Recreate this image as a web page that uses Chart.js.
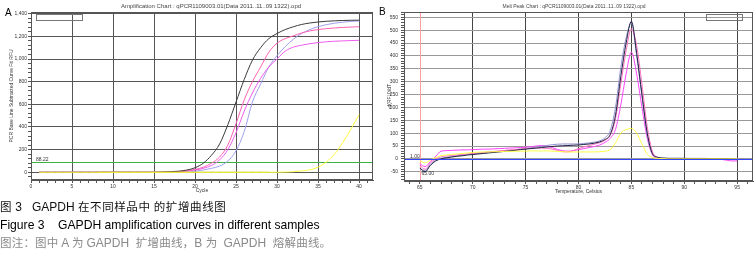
<!DOCTYPE html>
<html>
<head>
<meta charset="utf-8">
<script src="https://cdn.jsdelivr.net/npm/chart.js@4/dist/chart.umd.min.js"></script>
<style>
body{margin:0;background:#fff;width:756px;height:256px;overflow:hidden;position:relative;font-family:"Liberation Sans",Arial,"Noto Sans CJK SC",sans-serif}
#ca{position:absolute;left:0;top:0}
#cb{position:absolute;left:376px;top:0}
.cap{position:absolute;left:0;white-space:pre;line-height:14px;font-size:12px}
.zh{font-family:"Noto Sans CJK SC",sans-serif;font-size:11.5px;letter-spacing:0.6px}
.zh2{font-family:"Noto Sans CJK SC",sans-serif;font-size:11.5px;letter-spacing:0.2px}
</style>
</head>
<body>
<canvas id="ca" width="376" height="200"></canvas>
<canvas id="cb" width="380" height="200"></canvas>
<div class="cap" style="top:199px;color:#111"><span class="zh">图 </span>3   GAPDH <span class="zh">在不同样品中 的扩增曲线图</span></div>
<div class="cap" style="top:218px;color:#000;font-size:12.15px">Figure 3    GAPDH amplification curves in different samples</div>
<div class="cap" style="top:235px;color:#8a8a8a"><span class="zh2">图注：图中 </span>A <span class="zh2">为 </span>GAPDH  <span class="zh2">扩增曲线，</span>B <span class="zh2">为 </span> GAPDH  <span class="zh2">熔解曲线。</span></div>
<script>
// A: amplification
const cycles = [1,2,3,4,5,6,7,8,9,10,11,12,13,14,15,16,17,18,19,20,21,22,23,24,25,26,27,28,29,30,31,32,33,34,35,36,37,38,39,40];
const ampBlack = [0,0,0,0,0,0,0,0,0,0,0,0,0,0,0,2,5,10,20,40,80,150,250,420,620,820,990,1100,1180,1225,1260,1285,1305,1318,1327,1333,1337,1340,1342,1343];
const ampLav = [0,0,0,0,0,0,0,0,0,0,0,0,0,0,0,0,0,0,0,10,20,35,55,100,190,360,620,780,930,1030,1110,1175,1225,1260,1285,1303,1316,1325,1332,1336];
const ampPink = [0,0,0,0,0,0,0,0,0,0,0,0,0,0,0,0,0,5,15,25,45,80,135,240,430,640,800,930,1060,1140,1180,1205,1230,1248,1260,1268,1274,1279,1282,1285];
const ampMag = [0,0,0,0,0,0,0,0,0,0,0,0,0,0,0,0,0,5,10,20,35,60,110,200,350,540,700,830,930,1000,1070,1105,1122,1135,1145,1152,1157,1160,1163,1165];
const ampYel = [0,0,0,0,0,0,0,0,0,0,0,0,0,0,0,0,0,0,0,0,0,0,0,0,0,0,0,0,0,0,2,5,12,22,45,90,160,260,380,510];
const ampOlive = [null,null,null,null,null,null,null,0,0,0,0,0,0,0,0,0,0,0,0,0,0,0,0,0,0,0,0,0,0,null,null,null,null,null,null,null,null,null,null,null];
const ampThreshold = 88.22;

// B: melt peak
const temps = [65,65.5,66,66.5,67,67.5,68,68.5,69,69.5,70,70.5,71,71.5,72,72.5,73,73.5,74,74.5,75,75.5,76,76.5,77,77.5,78,78.5,79,79.5,80,80.5,81,81.5,82,82.5,83,83.5,84,84.5,85,85.5,86,86.5,87,87.5,88,88.5,89,89.5,90,90.5,91,91.5,92,92.5,93,93.5,94,94.5,95];
const meltBlack = [-35,-50,-25,-8,0,4,7,10,12,15,17,19,21,23,25,27,29,31,33,36,38,40,42,44,46,48,50,51,52,53,54,56,58,61,66,75,95,170,320,450,535,410,250,100,20,6,3,2,2,2,2,1,1,1,1,1,1,1,1,0,0];
const meltLav = [-40,-45,-20,-5,2,6,9,12,14,17,19,21,23,25,27,29,31,33,35,38,40,43,46,49,52,55,57,58,58,58,58,60,62,65,70,82,110,200,355,470,528,400,245,95,18,5,3,2,2,2,2,2,2,2,2,1,1,1,1,1,1];
const meltPink = [-25,-40,-15,0,8,11,13,15,17,19,21,23,25,27,29,31,33,35,36,38,40,41,42,42,41,38,33,28,27,32,40,46,52,57,63,72,92,155,290,420,505,440,290,125,28,6,1,0,0,1,0,0,1,0,0,0,1,0,0,-1,0];
const meltMag = [-20,-30,-10,10,30,32,33,34,35,35,36,37,38,38,39,40,41,42,43,44,45,47,50,52,50,44,37,32,30,32,36,40,44,48,54,64,80,115,210,330,415,330,200,80,15,2,0,0,1,0,0,0,0,0,0,0,-1,-2,-5,-8,-8];
const meltYel = [-8,-15,-5,5,12,15,17,19,21,23,25,26,27,27,28,28,29,29,30,30,30,31,31,31,31,30,29,28,27,27,27,27,27,27,28,30,36,62,100,114,118,100,58,18,5,2,1,0,0,0,0,0,0,0,0,0,0,0,0,0,0];
const meltThreshold = 1.00;
const meltStart = 65;

const FONT = '"Liberation Sans", Arial, sans-serif';

function stepTicks(min, max, step) {
  const t = [];
  for (let v = Math.ceil(min / step) * step; v <= max + 1e-9; v += step) t.push({ value: Math.round(v * 100) / 100 });
  return t;
}
function pts(xs, ys) { return xs.map((x, i) => ({ x: x, y: ys[i] })); }
function ds(xs, ys, color) {
  return { data: pts(xs, ys), borderColor: color, borderWidth: 1, pointRadius: 0, fill: false, cubicInterpolationMode: 'monotone', spanGaps: false };
}
function txt(ctx, s, x, y, size, color, align, maxW) {
  ctx.save();
  ctx.font = size + 'px ' + FONT;
  ctx.fillStyle = color;
  ctx.textAlign = align || 'left';
  ctx.textBaseline = 'middle';
  if (maxW) ctx.fillText(s, x, y, maxW); else ctx.fillText(s, x, y);
  ctx.restore();
}

const ampPlugin = {
  id: 'ampExtras',
  beforeDatasetsDraw(chart) {
    const { ctx, chartArea: a, scales: { y } } = chart;
    const ty = Math.round(y.getPixelForValue(ampThreshold)) + 0.5;
    ctx.save();
    ctx.strokeStyle = '#3cb043';
    ctx.lineWidth = 1;
    ctx.beginPath(); ctx.moveTo(a.left, ty); ctx.lineTo(a.right, ty); ctx.stroke();
    ctx.restore();
    txt(ctx, ampThreshold.toFixed(2), a.left + 5, ty - 3, 5, '#333');
  },
  afterDraw(chart) {
    const { ctx, chartArea: a } = chart;
    ctx.save();
    ctx.strokeStyle = '#555';
    ctx.lineWidth = 1;
    ctx.strokeRect(a.left + 0.5, a.top + 0.5, a.right - a.left - 1, a.bottom - a.top - 1);
    ctx.strokeStyle = '#777';
    ctx.strokeRect(36.5, 14.5, 46, 6);
    ctx.restore();
    txt(ctx, 'Amplification Chart : qPCR1109003.01(Data 2011..11..09 1322).opd', 211, 6, 6, '#444', 'center', 188);
    txt(ctx, 'A', 5, 13, 10, '#000');
  }
};

const meltPlugin = {
  id: 'meltExtras',
  beforeDatasetsDraw(chart) {
    const { ctx, chartArea: a, scales: { x, y } } = chart;
    const rx = Math.round(x.getPixelForValue(meltStart)) + 0.5;
    const by = Math.round(y.getPixelForValue(meltThreshold)) + 0.5;
    ctx.save();
    ctx.lineWidth = 1;
    ctx.strokeStyle = '#ff9c9c';
    ctx.beginPath(); ctx.moveTo(rx, a.top); ctx.lineTo(rx, a.bottom); ctx.stroke();
    ctx.restore();
    txt(ctx, meltThreshold.toFixed(2), a.left + 6, by - 3, 5, '#333');
    txt(ctx, meltStart.toFixed(2), rx + 1, by + 14, 5, '#333');
  },
  afterDatasetsDraw(chart) {
    const { ctx, chartArea: a, scales: { y } } = chart;
    const by = Math.round(y.getPixelForValue(meltThreshold)) + 0.5;
    ctx.save();
    ctx.strokeStyle = '#3344ff';
    ctx.lineWidth = 1;
    ctx.beginPath(); ctx.moveTo(a.left, by); ctx.lineTo(a.right, by); ctx.stroke();
    ctx.restore();
  },
  afterDraw(chart) {
    const { ctx, chartArea: a } = chart;
    ctx.save();
    ctx.strokeStyle = '#555';
    ctx.lineWidth = 1;
    ctx.strokeRect(a.left + 0.5, a.top + 0.5, a.right - a.left - 1, a.bottom - a.top - 1);
    ctx.strokeStyle = '#777';
    ctx.strokeRect(330.5, 14.5, 36, 6);
    ctx.restore();
    txt(ctx, 'Melt Peak Chart : qPCR1109003.01(Data 2011..11..09 1322).opd', 198, 6, 6, '#444', 'center', 143);
    txt(ctx, 'B', 3, 12, 10, '#000');
  }
};

function axisX(min, max, minor, major, majorColor, skip, height, title, titlePad) {
  return {
    type: 'linear', min: min, max: max,
    afterBuildTicks: s => { s.ticks = stepTicks(min, max, minor); },
    afterFit: s => { s.height = height; },
    grid: {
      color: c => (c.tick && c.tick.value % major === 0 && c.tick.value !== skip) ? majorColor : 'rgba(0,0,0,0)',
      tickColor: '#555', tickLength: 3, lineWidth: 1
    },
    border: { color: '#555' },
    ticks: { autoSkip: false, maxRotation: 0, padding: 1, color: '#333', font: { size: 5, family: FONT },
      callback: v => (v % major === 0 ? String(v) : '') },
    title: { display: true, text: title, color: '#333', font: { size: 5, family: FONT }, padding: { top: 0, bottom: titlePad } }
  };
}
function axisY(min, max, minor, major, majorColor, width, title, titlePad, fmt, labelPad) {
  return {
    type: 'linear', min: min, max: max,
    afterBuildTicks: s => { s.ticks = stepTicks(min, max, minor); },
    afterFit: s => { s.width = width; },
    grid: {
      color: c => (c.tick && c.tick.value % major === 0) ? majorColor : 'rgba(0,0,0,0)',
      tickColor: '#555', tickLength: 3, lineWidth: 1
    },
    border: { color: '#555' },
    ticks: { autoSkip: false, padding: labelPad, color: '#333', font: { size: 5, family: FONT },
      callback: v => (v % major === 0 ? fmt(v) : '') },
    title: { display: true, text: title, color: '#333', font: { size: 5, family: FONT }, padding: { top: titlePad, bottom: 0 } }
  };
}

new Chart(document.getElementById('ca'), {
  type: 'line',
  data: {
    datasets: [
      ds(cycles, ampYel, '#ffff40'),
      ds(cycles, ampOlive, '#a3a320'),
      ds(cycles, ampBlack, '#3a3a3a'),
      ds(cycles, ampPink, '#ff5fb0'),
      ds(cycles, ampMag, '#ee5cee'),
      ds(cycles, ampLav, '#9f9fef')
    ]
  },
  options: {
    responsive: false, animation: false, devicePixelRatio: 1,
    layout: { padding: { left: 0, right: 3, top: 12, bottom: 0 } },
    plugins: { legend: { display: false }, tooltip: { enabled: false } },
    scales: {
      x: axisX(0, 41.7, 1, 5, '#555', null, 20, 'Cycle', 6),
      y: axisY(-68, 1415, 40, 200, '#555', 31, 'PCR Base Line Subtracted Curve Fit RFU', 9,
        v => v.toLocaleString('en-US'), 1)
    }
  },
  plugins: [ampPlugin]
});

new Chart(document.getElementById('cb'), {
  type: 'line',
  data: {
    datasets: [
      ds(temps, meltYel, '#ffff44'),
      ds(temps, meltBlack, '#222244'),
      ds(temps, meltPink, '#ff70c0'),
      ds(temps, meltLav, '#9090d0'),
      ds(temps, meltMag, '#ff44ff')
    ]
  },
  options: {
    responsive: false, animation: false, devicePixelRatio: 1,
    layout: { padding: { left: 0, right: 3, top: 12, bottom: 0 } },
    plugins: { legend: { display: false }, tooltip: { enabled: false } },
    scales: {
      x: axisX(63.5, 96.5, 1, 5, '#444', 65, 19, 'Temperature, Celsius', 5),
      y: axisY(-86, 571, 10, 50, '#999', 28, '-d(RFU)/dT', 11, v => String(v), 3)
    }
  },
  plugins: [meltPlugin]
});
</script>
</body>
</html>
